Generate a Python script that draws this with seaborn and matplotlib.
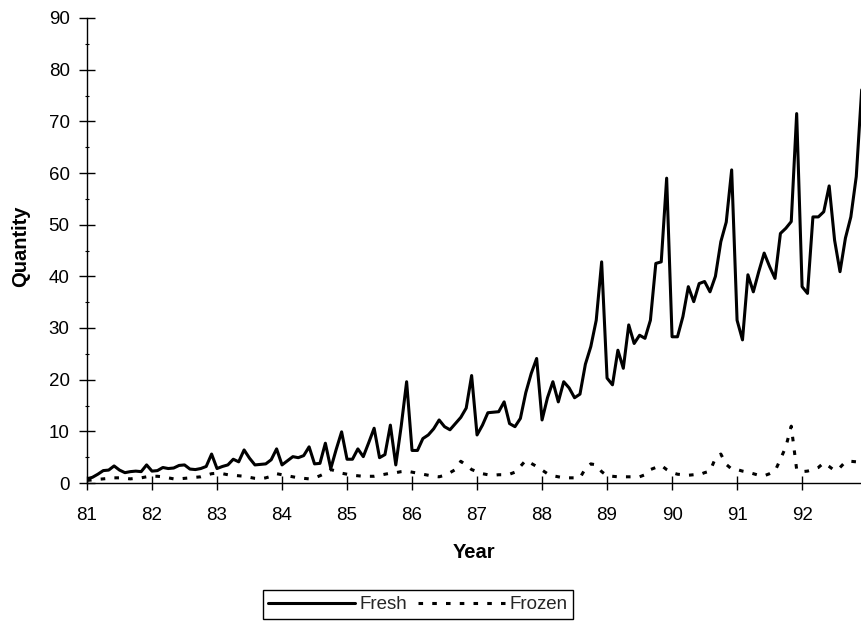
import numpy as np
import pandas as pd
import seaborn as sns
import matplotlib.pyplot as plt
from matplotlib.lines import Line2D

sns.set_theme(style="white")
plt.rcParams['font.family'] = ['Liberation Sans', 'DejaVu Sans']

start_year = 81
year_ticks = [81, 82, 83, 84, 85, 86, 87, 88, 89, 90, 91, 92]
y_ticks = [0, 10, 20, 30, 40, 50, 60, 70, 80, 90]

fresh = [
    0.8, 1.1, 1.7, 2.4, 2.5, 3.3, 2.5, 2.0, 2.2, 2.3, 2.2, 3.5,          # 81
    2.3, 2.4, 3.0, 2.8, 2.9, 3.4, 3.5, 2.7, 2.6, 2.8, 3.2, 5.6,          # 82
    2.8, 3.2, 3.5, 4.6, 4.1, 6.4, 4.8, 3.5, 3.6, 3.7, 4.5, 6.6,          # 83
    3.5, 4.3, 5.1, 4.9, 5.3, 7.0, 3.7, 3.8, 7.7, 2.8, 6.5, 9.9,          # 84
    4.6, 4.6, 6.6, 5.1, 7.8, 10.6, 4.9, 5.5, 11.2, 3.5, 11.0, 19.6,      # 85
    6.3, 6.3, 8.6, 9.3, 10.5, 12.2, 10.9, 10.3, 11.5, 12.7, 14.5, 20.8,  # 86
    9.3, 11.2, 13.6, 13.7, 13.8, 15.7, 11.5, 10.9, 12.5, 17.5, 21.2, 24.1,  # 87
    12.2, 16.5, 19.6, 15.7, 19.6, 18.4, 16.5, 17.2, 23.0, 26.4, 31.5, 42.8,  # 88
    20.3, 19.0, 25.7, 22.2, 30.6, 27.0, 28.6, 28.0, 31.5, 42.5, 42.8, 59.0,  # 89
    28.3, 28.3, 32.2, 38.0, 35.1, 38.6, 39.0, 37.0, 40.0, 46.7, 50.5, 60.6,  # 90
    31.5, 27.7, 40.3, 37.0, 40.9, 44.5, 41.9, 39.6, 48.3, 49.3, 50.6, 71.5,  # 91
    38.0, 36.7, 51.5, 51.5, 52.5, 57.5, 47.0, 40.9, 47.4, 51.5, 59.3, 76.1,  # 92
]

frozen = [
    0.5, 0.6, 0.7, 0.8, 0.9, 1.0, 1.0, 0.9, 0.8, 0.9, 1.0, 1.2,   # 81
    1.3, 1.3, 1.2, 1.0, 0.8, 0.8, 0.9, 1.0, 1.1, 1.2, 1.5, 1.8,   # 82
    1.9, 1.8, 1.6, 1.5, 1.4, 1.3, 1.1, 0.9, 0.8, 1.0, 1.3, 1.8,   # 83
    1.6, 1.4, 1.2, 1.0, 0.9, 0.8, 1.0, 1.4, 1.9, 2.6, 2.3, 1.9,   # 84
    1.7, 1.5, 1.4, 1.3, 1.3, 1.3, 1.5, 1.7, 1.9, 2.0, 2.2, 2.3,   # 85
    2.1, 1.9, 1.7, 1.5, 1.3, 1.2, 1.5, 2.0, 2.6, 4.2, 3.5, 2.6,   # 86
    2.2, 1.8, 1.6, 1.5, 1.6, 1.6, 1.7, 2.1, 3.2, 4.4, 3.8, 3.2,   # 87
    2.5, 1.8, 1.4, 1.2, 1.0, 1.0, 1.0, 1.0, 2.8, 3.7, 3.5, 2.2,   # 88
    1.4, 1.3, 1.2, 1.2, 1.2, 1.2, 1.2, 1.6, 2.6, 3.0, 3.4, 2.6,   # 89
    2.0, 1.7, 1.6, 1.5, 1.6, 1.6, 2.0, 2.3, 4.8, 5.6, 3.6, 2.7,   # 90
    2.6, 2.3, 2.1, 1.8, 1.5, 1.4, 1.8, 2.3, 4.6, 7.0, 11.0, 2.6,  # 91
    2.2, 2.3, 2.6, 3.0, 3.9, 3.2, 2.4, 3.0, 4.1, 4.2, 4.1, 3.6,   # 92
]

n = len(fresh)
x = start_year + np.arange(n) / 12.0
df = pd.DataFrame({
    'Year': np.concatenate([x, x]),
    'Quantity': fresh + frozen,
    'Series': ['Fresh'] * n + ['Frozen'] * n,
})

W, H = 862, 625
fig = plt.figure(figsize=(W / 100, H / 100), dpi=100)
ax_left, ax_right, ax_top, ax_bottom = 87, 862, 18, 483
ax = fig.add_axes([ax_left / W, 1 - ax_bottom / H, (ax_right - ax_left) / W, (ax_bottom - ax_top) / H])

frozen_dash = (1.5, 3.0)
sns.lineplot(data=df, x='Year', y='Quantity', style='Series', color='black',
             dashes={'Fresh': '', 'Frozen': frozen_dash}, linewidth=2.2,
             ax=ax, legend=False)

ax.set_xlim(start_year, start_year + (n - 1) / 12.0 + 0.005)
ax.set_ylim(0, 90)
ax.set_xticks(year_ticks)
ax.set_xticklabels([str(v) for v in year_ticks])
ax.set_yticks(y_ticks)
ax.set_yticks(np.arange(5, 90, 10), minor=True)

for s in ['top', 'right']:
    ax.spines[s].set_visible(False)
for s in ['left', 'bottom']:
    ax.spines[s].set_color('black')
    ax.spines[s].set_linewidth(1.0)

ax.tick_params(axis='x', which='major', direction='inout', length=10, width=1,
               colors='black', labelsize=13.5, pad=12, bottom=True)
ax.tick_params(axis='y', which='major', direction='inout', length=11, width=1,
               colors='black', labelsize=13.5, pad=7, left=True)
ax.tick_params(axis='y', which='minor', direction='inout', length=3, width=0.8,
               colors='black', left=True)

ax.set_xlabel('Year', fontsize=14.5, fontweight='bold', color='black')
ax.set_ylabel('Quantity', fontsize=14.5, fontweight='bold', color='black')
ax.xaxis.label.set_va('center')
ax.xaxis.set_label_coords(0.5, (ax_bottom - 553) / (ax_bottom - ax_top))
ax.yaxis.label.set_va('center')
ax.yaxis.set_label_coords((21 - ax_left) / (ax_right - ax_left), 0.51)

handles = [
    Line2D([], [], color='black', linewidth=2.2),
    Line2D([], [], color='black', linewidth=2.2, linestyle=(0, frozen_dash)),
]
leg = ax.legend(handles, ['Fresh', 'Frozen'], loc='center',
                bbox_to_anchor=(418 / W, 1 - 604.5 / H), bbox_transform=fig.transFigure,
                ncol=2, frameon=True, fancybox=False, edgecolor='black', framealpha=1,
                fontsize=13.5, handlelength=4.6, handletextpad=0.25, columnspacing=0.6,
                borderpad=0.3, borderaxespad=0)
leg.get_frame().set_linewidth(1.0)

fig.savefig('out.png', dpi=100, facecolor='white')
